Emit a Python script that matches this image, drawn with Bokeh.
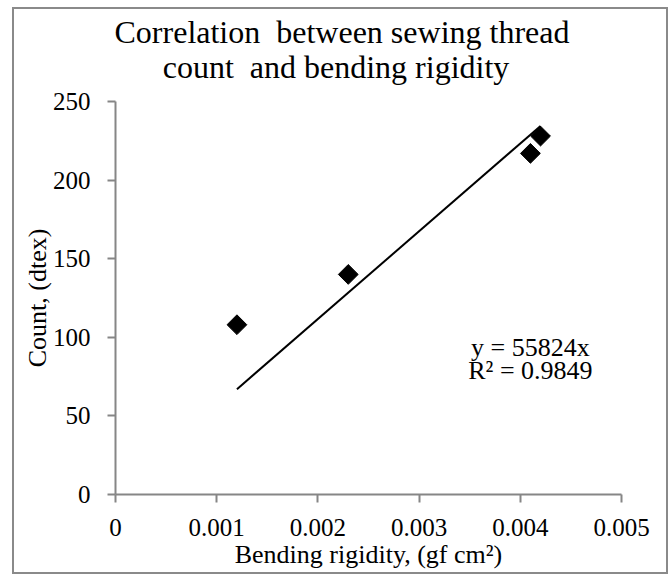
from bokeh.plotting import figure
from bokeh.models import (Range1d, FixedTicker, NumeralTickFormatter, ColumnDataSource,
                          Spacer, Div)
from bokeh.layouts import row, column
from bokeh.core.properties import value
from bokeh.embed import file_html
from bokeh.resources import INLINE
import numpy as np

# ---- data ----
bending_rigidity = [0.0012, 0.0023, 0.0041, 0.0042]
count_dtex = [108, 140, 217, 228]
trend_slope = 55824
trend_r2 = 0.9849
x_ticks = [0, 0.001, 0.002, 0.003, 0.004, 0.005]
y_ticks = [0, 50, 100, 150, 200, 250]
title_line1 = "Correlation&nbsp; between sewing thread"
title_line2 = "count&nbsp; and bending rigidity"
x_label = "Bending rigidity, (gf cm\u00b2)"
y_label = "Count, (dtex)"

FONT = "Liberation Serif"
AXIS_GRAY = "#868686"

# title block (two centred lines)
title_div = Div(
    text=(f'<div style="padding-left:4px">{title_line1}</div>'
          f'<div style="padding-right:8px">{title_line2}</div>'),
    width=652, height=80, margin=0,
    styles={"font-family": FONT, "font-size": "32px", "line-height": "35px",
            "text-align": "center", "color": "black", "padding-top": "6px",
            "box-sizing": "border-box", "background": "white"},
)

p = figure(
    frame_width=506, frame_height=393, margin=0,
    x_range=Range1d(0, 0.005), y_range=Range1d(0, 250),
    output_backend="svg", toolbar_location=None,
    min_border_left=101, min_border_right=45,
    min_border_top=12, min_border_bottom=78,
)
p.outline_line_color = None
p.xgrid.visible = False
p.ygrid.visible = False
p.background_fill_color = "white"
p.border_fill_color = "white"
p.title.visible = False

# axes
for ax in (p.xaxis[0], p.yaxis[0]):
    ax.axis_line_color = AXIS_GRAY
    ax.axis_line_width = 2
    ax.major_tick_line_color = AXIS_GRAY
    ax.major_tick_line_width = 2
    ax.major_tick_out = 8
    ax.major_tick_in = 0
    ax.minor_tick_line_color = None
    ax.major_label_text_font = FONT
    ax.major_label_text_font_size = "25px"
    ax.major_label_text_color = "black"
    ax.axis_label_text_font = FONT
    ax.axis_label_text_font_size = "26px"
    ax.axis_label_text_font_style = "normal"
    ax.axis_label_text_color = "black"

p.xaxis[0].ticker = FixedTicker(ticks=x_ticks)
p.xaxis[0].formatter = NumeralTickFormatter(format="0.[000]")
p.xaxis[0].axis_label = x_label
p.xaxis[0].major_label_standoff = 16
p.xaxis[0].axis_label_standoff = 1

p.yaxis[0].ticker = FixedTicker(ticks=y_ticks)
p.yaxis[0].axis_label = y_label
p.yaxis[0].major_label_standoff = 17
p.yaxis[0].axis_label_standoff = -2

# trendline (y = slope * x over data span)
xs_fit = [min(bending_rigidity), max(bending_rigidity)]
ys_fit = [trend_slope * v for v in xs_fit]
p.line(xs_fit, ys_fit, line_color="black", line_width=2)

# data markers (rotated squares = diamonds)
src = ColumnDataSource(dict(x=bending_rigidity, y=count_dtex))
p.scatter("x", "y", source=src, marker="square", angle=np.pi / 4,
          size=14, fill_color="black", line_color="black")

# equation label
eq_lines = [f"y = {trend_slope}x", f"R\u00b2 = {trend_r2}"]
p.text(x=[0.00410, 0.00410], y=[93.3, 78.8], text=eq_lines, text_font=value(FONT),
       text_font_size="26px", text_align="center", text_baseline="middle",
       text_color="black")

chart = column(title_div, p, margin=0,
               styles={"border": "2px solid #8a8a8a", "background": "white"})
layout = column(Spacer(height=7), row(Spacer(width=12), chart))
open("out.html", "w").write(file_html(layout, INLINE))
